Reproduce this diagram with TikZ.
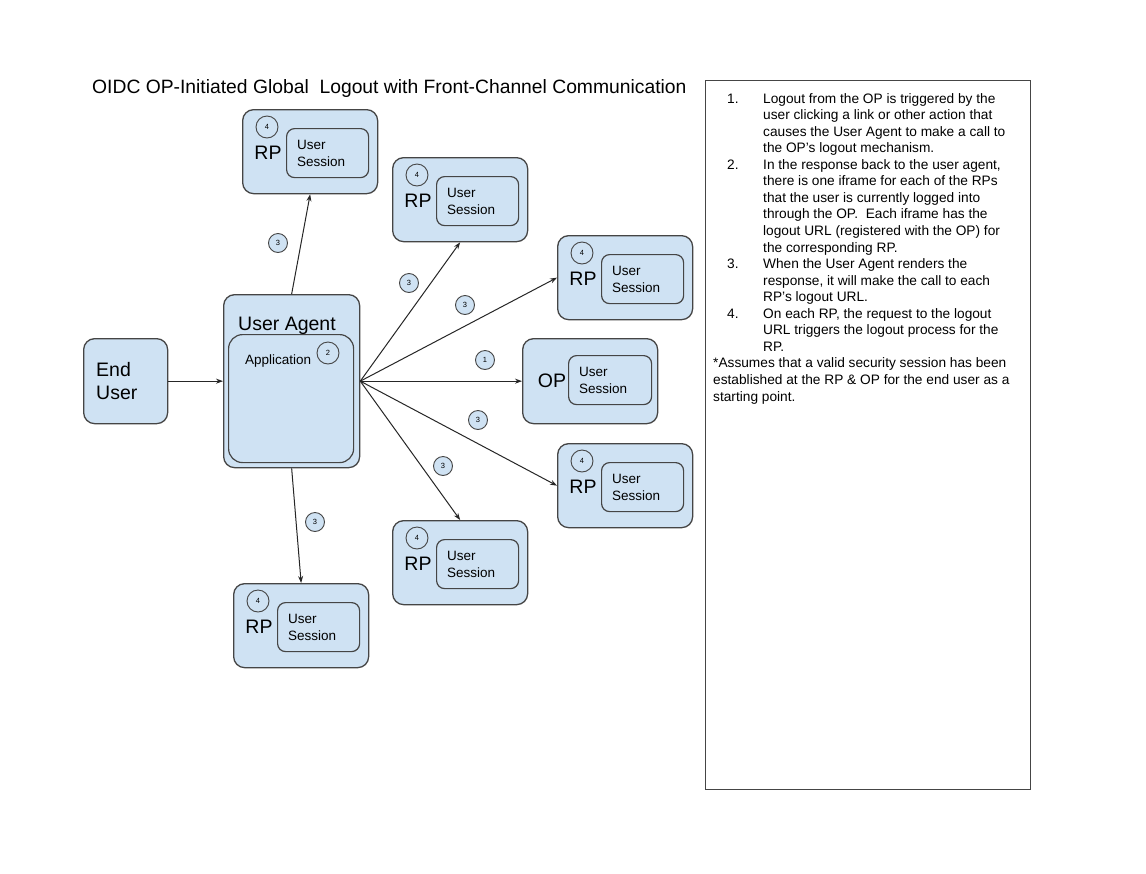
\documentclass[tikz,border=0pt]{standalone}
\usepackage{fontspec}
\setmainfont{Liberation Sans}
\usetikzlibrary{arrows.meta}
\definecolor{boxfill}{HTML}{CFE2F3}
\definecolor{boxline}{HTML}{454545}
\definecolor{arrline}{HTML}{262626}
\tikzset{
  outerbox/.style={draw=boxline, fill=boxfill, rounded corners=11pt, line width=1.3pt, inner sep=0pt},
  innerbox/.style={draw=boxline, fill=boxfill, rounded corners=8pt, line width=1.2pt, inner sep=0pt},
  numcirc/.style={circle, draw=boxline, fill=boxfill, line width=0.9pt, minimum size=22pt, inner sep=0pt, font=\fontsize{7.5}{8}\selectfont},
  labcirc/.style={circle, draw=boxline, fill=boxfill, line width=0.9pt, minimum size=19pt, inner sep=0pt, font=\fontsize{7.5}{8}\selectfont},
  bigtxt/.style={inner sep=0pt, font=\fontsize{19.5}{23}\selectfont},
  smalltxt/.style={inner sep=0pt, align=left, font=\fontsize{13.5}{17}\selectfont},
  flow/.style={draw=arrline, line width=1pt, -{Stealth[length=7pt,width=5pt]}},
}
\newcommand\rpbox[3]{%
\begin{scope}[shift={(#2,#3)}]
\node[outerbox, anchor=north west, minimum width=135pt, minimum height=84pt] (#1) at (0,0) {};
\node[numcirc] (#1-n) at (25,18) {4};
\node[bigtxt] (#1-t) at (26,44) {RP};
\node[innerbox, anchor=north west, minimum width=82pt, minimum height=49pt] (#1-s) at (44,19) {};
\node[smalltxt, anchor=west] (#1-l) at (55,44) {User\\Session};
\end{scope}}
\begin{document}
\begin{tikzpicture}[x=1pt, y=-1pt]
\path[use as bounding box, fill=white] (0,0) rectangle (1146,873);

% title
\node[inner sep=0pt, anchor=base west, font=\fontsize{19.3}{22}\selectfont] (title) at (92,93)
  {OIDC OP-Initiated Global~ Logout with Front-Channel Communication};

% end user
\node[outerbox, anchor=north west, minimum width=84pt, minimum height=85pt] (eu) at (83,338) {};
\node[bigtxt, align=left, anchor=west] (eut) at (96,381) {End\\User};

% user agent
\node[outerbox, anchor=north west, minimum width=136pt, minimum height=173pt] (ua) at (223,294) {};
\node[bigtxt, anchor=base west] (uat) at (238,330) {User Agent};
\node[innerbox, rounded corners=14pt, anchor=north west, minimum width=125pt, minimum height=128pt] (app) at (228,334) {};
\node[inner sep=0pt, anchor=base west, font=\fontsize{13.5}{16}\selectfont] (appt) at (245,364) {Application};
\node[numcirc] (n2) at (328,353) {2};

% RP boxes
\rpbox{rpa}{242}{109}
\rpbox{rpb}{392}{157}
\rpbox{rpc}{557}{235}
\rpbox{rpe}{557}{443}
\rpbox{rpf}{392}{520}
\rpbox{rpg}{233}{583}

% OP box
\node[outerbox, anchor=north west, minimum width=135pt, minimum height=85pt] (op) at (522,338) {};
\node[bigtxt] (opt) at (552,381) {OP};
\node[innerbox, anchor=north west, minimum width=83pt, minimum height=49pt] (ops) at (568,355) {};
\node[smalltxt, anchor=west] (opl) at (579,380) {User\\Session};

% connectors
\draw[flow] (eu.east) -- (ua.west);
\draw[flow] (ua.north) -- (rpa.south);
\draw[flow] (ua.east) -- (rpb.south);
\draw[flow] (ua.east) -- (rpc.west);
\draw[flow] (ua.east) -- (op.west);
\draw[flow] (ua.east) -- (rpe.west);
\draw[flow] (ua.east) -- (rpf.north);
\draw[flow] (ua.south) -- (rpg.north);

% step labels
\node[labcirc] (l3a) at (278,243) {3};
\node[labcirc] (l3b) at (409,283) {3};
\node[labcirc] (l3c) at (465,305) {3};
\node[labcirc] (l1) at (485,360) {1};
\node[labcirc] (l3e) at (478,420) {3};
\node[labcirc] (l3f) at (443,466) {3};
\node[labcirc] (l3g) at (315,522) {3};

% notes
\node[draw=boxline, line width=1pt, anchor=north west, minimum width=325pt, minimum height=709pt, inner sep=0pt] (notebox) at (705,80) {};
\node[inner sep=0pt, anchor=north west, align=left, font=\fontsize{13.7}{16.55}\selectfont] (notes) at (713,93) {%
\hspace*{14pt}\makebox[36pt][l]{1.}Logout from the OP is triggered by the\\
\hspace*{50pt}user clicking a link or other action that\\
\hspace*{50pt}causes the User Agent to make a call to\\
\hspace*{50pt}the OP's logout mechanism.\\
\hspace*{14pt}\makebox[36pt][l]{2.}In the response back to the user agent,\\
\hspace*{50pt}there is one iframe for each of the RPs\\
\hspace*{50pt}that the user is currently logged into\\
\hspace*{50pt}through the OP.\ \ Each iframe has the\\
\hspace*{50pt}logout URL (registered with the OP) for\\
\hspace*{50pt}the corresponding RP.\\
\hspace*{14pt}\makebox[36pt][l]{3.}When the User Agent renders the\\
\hspace*{50pt}response, it will make the call to each\\
\hspace*{50pt}RP's logout URL.\\
\hspace*{14pt}\makebox[36pt][l]{4.}On each RP, the request to the logout\\
\hspace*{50pt}URL triggers the logout process for the\\
\hspace*{50pt}RP.\\
*Assumes that a valid security session has been\\
established at the RP \& OP for the end user as a\\
starting point.};
\end{tikzpicture}
\end{document}
